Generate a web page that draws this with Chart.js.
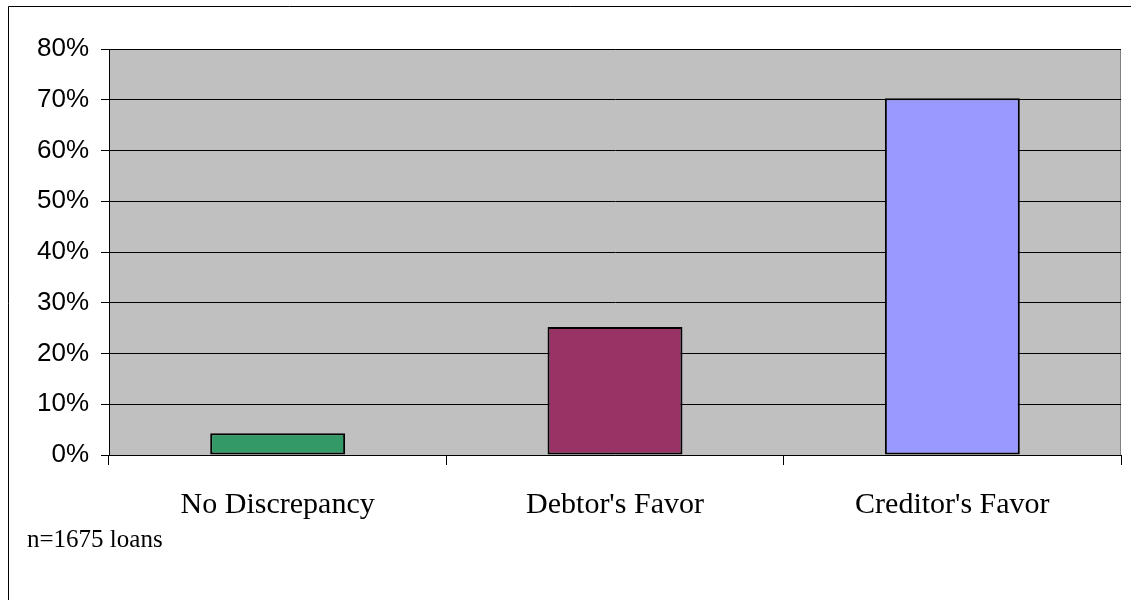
<!DOCTYPE html>
<html>
<head>
<meta charset="utf-8">
<script src="https://cdn.jsdelivr.net/npm/chart.js@4/dist/chart.umd.min.js"></script>
<style>
html,body{margin:0;padding:0;background:#fff;overflow:hidden;}
#wrap{position:relative;width:1131px;height:600px;}
</style>
</head>
<body>
<div id="wrap"><canvas id="c" width="1131" height="600"></canvas></div>
<script>
const categories = ["No Discrepancy", "Debtor's Favor", "Creditor's Favor"];
const shares = [0.043, 0.252, 0.703];
const barColors = ["#339966", "#993366", "#9999FF"];
const yTickLabels = ["0%", "10%", "20%", "30%", "40%", "50%", "60%", "70%", "80%"];
const noteText = "n=1675 loans";

const decor = {
  id: 'decor',
  beforeDraw(chart) {
    const ctx = chart.ctx, a = chart.chartArea;
    ctx.save();
    ctx.fillStyle = '#fff';
    ctx.fillRect(0, 0, chart.width, chart.height);
    // outer frame
    ctx.strokeStyle = '#000';
    ctx.lineWidth = 1;
    ctx.beginPath();
    ctx.moveTo(8.5, chart.height + 2);
    ctx.lineTo(8.5, 6.5);
    ctx.lineTo(chart.width + 2, 6.5);
    ctx.stroke();
    // plot background
    ctx.fillStyle = '#C0C0C0';
    ctx.fillRect(a.left, a.top, a.right - a.left, a.bottom - a.top);
    ctx.strokeStyle = '#808080';
    ctx.beginPath();
    ctx.moveTo(a.left, a.top + 0.5);
    ctx.lineTo(a.right - 0.5, a.top + 0.5);
    ctx.lineTo(a.right - 0.5, a.bottom);
    ctx.stroke();
    ctx.restore();
  },
  afterDraw(chart) {
    const ctx = chart.ctx;
    ctx.save();
    ctx.fillStyle = '#000';
    ctx.font = '25px "Liberation Serif", "Times New Roman", serif';
    ctx.textBaseline = 'alphabetic';
    ctx.textAlign = 'left';
    ctx.fillText(noteText, 27, 547);
    ctx.restore();
  }
};

new Chart(document.getElementById('c'), {
  type: 'bar',
  data: {
    labels: categories,
    datasets: [{
      data: shares,
      backgroundColor: barColors,
      borderColor: '#000',
      borderWidth: 2,
      borderSkipped: false,
      barPercentage: 0.4,
      categoryPercentage: 1.0
    }]
  },
  options: {
    responsive: false,
    animation: false,
    devicePixelRatio: 1,
    layout: { padding: { top: 49, right: 10, left: 0, bottom: 0 } },
    plugins: { legend: { display: false }, tooltip: { enabled: false } },
    scales: {
      x: {
        offset: true,
        grid: { display: true, offset: true, drawOnChartArea: false, drawTicks: true, tickLength: 10, color: '#000', lineWidth: 1 },
        border: { display: true, color: '#000', width: 1 },
        ticks: {
          color: '#000',
          font: { family: '"Liberation Serif", "Times New Roman", serif', size: 30 },
          padding: 22,
          maxRotation: 0,
          autoSkip: false
        },
        afterFit(s) { s.height = 145; }
      },
      y: {
        min: 0, max: 0.8,
        grid: { color: '#000', lineWidth: 1, tickLength: 8, drawTicks: true },
        border: { display: true, color: '#000', width: 1 },
        ticks: {
          stepSize: 0.1,
          color: '#000',
          font: { family: '"Liberation Sans", Arial, sans-serif', size: 26 },
          padding: 12,
          callback: (v, i) => yTickLabels[i]
        },
        afterFit(s) { s.width = 109; }
      }
    }
  },
  plugins: [decor]
});
</script>
</body>
</html>
